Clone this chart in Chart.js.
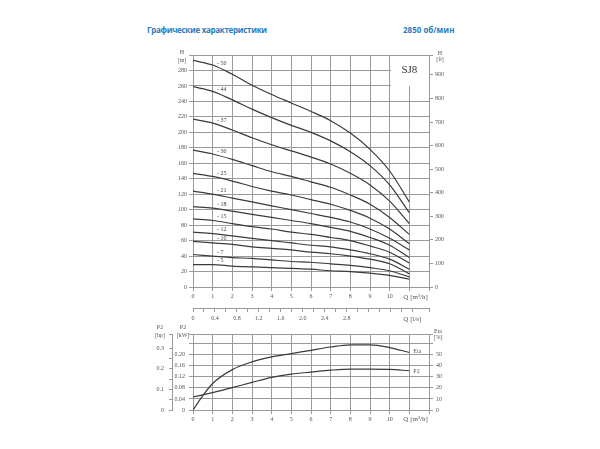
<!DOCTYPE html>
<html>
<head>
<meta charset="utf-8">
<script src="https://cdn.jsdelivr.net/npm/chart.js@4.4.1/dist/chart.umd.min.js"></script>
<style>
    html, body { margin: 0; padding: 0; background: #fff; }
    #page { position: relative; width: 600px; height: 449px; overflow: hidden; }
    .title { position: absolute; top: 24px; font-family: "Open Sans", sans-serif; font-weight: bold; font-size: 8px; color: #2b7bbd; white-space: nowrap; }
    #headChart { position: absolute; left: 150px; top: 40px; }
    #powerChart { position: absolute; left: 140px; top: 318px; }
</style>
</head>
<body>
<div id="page">
    <div class="title" style="left:147px; letter-spacing:-0.3px">Графические характеристики</div>
    <div class="title" style="left:403px">2850 об/мин</div>
    <canvas id="headChart" width="310" height="290"></canvas>
    <canvas id="powerChart" width="320" height="112"></canvas>
</div>
<script>
// Flow points, m3/h
const flowQ = [0, 1, 2, 3, 4, 5, 6, 7, 8, 9, 10, 11];

// Head curves (m) for each number of stages
const stages = ['50', '44', '37', '30', '25', '21', '18', '15', '12', '10', '7', '5'];
const head50 = [293, 287, 275, 261, 249, 238, 227, 215, 199, 178, 150, 110];
const head44 = [259, 253, 242, 230, 219, 209, 200, 189, 175, 157, 132, 96];
const head37 = [217, 212, 203, 193, 184, 176, 168, 159, 147, 132, 111, 82];
const head30 = [177, 172, 165, 157, 149, 143, 136, 129, 119, 107, 90, 68];
const head25 = [147, 143, 137, 130, 124, 119, 113, 107, 99, 89, 75, 56];
const head21 = [124, 120, 115, 110, 105, 100, 95, 90, 84, 75, 63, 48];
const head18 = [104, 102, 98, 94, 90, 86, 82, 77, 72, 64, 54, 38];
const head15 = [88, 86, 82, 78, 75, 71, 68, 64, 60, 53, 45, 31];
const head12 = [71, 69, 66, 63, 60, 57, 54, 52, 48, 43, 36, 23];
const head10 = [59, 57, 55, 52, 50, 48, 45, 43, 40, 36, 30, 17];
const head7 = [42, 40, 38, 37, 35, 33, 32, 30, 28, 25, 21, 13];
const head5 = [29, 29, 27, 26, 25, 24, 23, 21, 20, 18, 15, 10];
const headCurves = [head50, head44, head37, head30, head25, head21, head18, head15, head12, head10, head7, head5];

// Efficiency (%) and power P2 (kW)
const etaQ = [0, 0.5, 1, 2, 3, 4, 5, 6, 7, 8, 9, 10, 11];
const etaValues = [0, 13, 24, 36.5, 43.5, 48, 51, 54, 57, 59, 59, 56.5, 52];
const p2Values = [0.047, 0.063, 0.081, 0.100, 0.118, 0.130, 0.137, 0.144, 0.148, 0.148, 0.147, 0.142];

const gridColor = '#9a9a9a';
const textColor = '#555';
const serif = '"Liberation Serif", "DejaVu Serif", serif';
const tickFont = { family: serif, size: 6 };

function fixWidth(w) {
    return function(scale) { scale.width = w; };
}
function fixHeight(h) {
    return function(scale) { scale.height = h; };
}
function drawText(ctx, text, x, y, size, align, color) {
    ctx.font = size + 'px ' + serif;
    ctx.fillStyle = color || textColor;
    ctx.textAlign = align || 'center';
    ctx.textBaseline = 'middle';
    ctx.fillText(text, x, y);
}
function toPoints(xs, ys) {
    return ys.map((v, i) => ({ x: xs[i], y: v }));
}

// White box with the model name in the top right corner
const modelBox = {
    id: 'modelBox',
    beforeDatasetsDraw(chart) {
        const ctx = chart.ctx, x = chart.scales.x, y = chart.scales.y;
        const left = Math.round(x.getPixelForValue(10)) + 1;
        const right = Math.round(x.getPixelForValue(12));
        const top = Math.round(y.getPixelForValue(300)) + 1;
        const bottom = Math.round(y.getPixelForValue(260));
        ctx.save();
        ctx.fillStyle = '#fff';
        ctx.fillRect(left, top, right - left, bottom - top);
        drawText(ctx, 'SJ8', x.getPixelForValue(11), y.getPixelForValue(280), 11, 'center', '#333');
        ctx.restore();
    }
};

// Stage labels next to each head curve and axis captions
const headTexts = {
    id: 'headTexts',
    afterDraw(chart) {
        const ctx = chart.ctx, a = chart.chartArea, x = chart.scales.x, y = chart.scales.y;
        ctx.save();
        chart.data.datasets.forEach(ds => {
            const h = ds.data[1].y + (ds.data[2].y - ds.data[1].y) * 0.3;
            drawText(ctx, '- ' + ds.label, x.getPixelForValue(1.22), y.getPixelForValue(h) - 4.5, 6, 'left', '#444');
        });
        drawText(ctx, 'H', a.left - 11, a.top - 3, 6);
        drawText(ctx, '[m]', a.left - 11, a.top + 5, 6);
        drawText(ctx, 'H', a.right + 11, a.top - 2, 6);
        drawText(ctx, '[ft]', a.right + 11, a.top + 4, 6);
        drawText(ctx, 'Q [m³/h]', x.getPixelForValue(11) - 6, a.bottom + 10, 7, 'left');
        drawText(ctx, 'Q [l/s]', x.getPixelForValue(11) - 6, a.bottom + 32, 7, 'left');
        ctx.restore();
    }
};

const powerTexts = {
    id: 'powerTexts',
    afterDraw(chart) {
        const ctx = chart.ctx, a = chart.chartArea, x = chart.scales.x;
        const kw = chart.scales.kw, eta = chart.scales.eta;
        ctx.save();
        drawText(ctx, 'P2', a.left - 33, a.top - 7, 6);
        drawText(ctx, '[hp]', a.left - 33, a.top + 1, 6);
        drawText(ctx, 'P2', a.left - 10, a.top - 7, 6);
        drawText(ctx, '[kW]', a.left - 10, a.top + 1, 6);
        drawText(ctx, 'Eta', a.right + 9, a.top - 3, 6);
        drawText(ctx, '[%]', a.right + 9, a.top + 3, 6);
        drawText(ctx, 'Eta', x.getPixelForValue(11) + 4, eta.getPixelForValue(etaValues[etaValues.length - 1]) - 1, 6, 'left');
        drawText(ctx, 'P2', x.getPixelForValue(11) + 4, kw.getPixelForValue(p2Values[p2Values.length - 1]) + 1, 6, 'left');
        drawText(ctx, 'Q [m³/h]', x.getPixelForValue(11) - 6, a.bottom + 9, 7, 'left');
        ctx.restore();
    }
};

const lineStyle = {
    borderColor: '#3a3a3a',
    borderWidth: 1.2,
    pointRadius: 0,
    fill: false,
    cubicInterpolationMode: 'monotone'
};

function flowAxis(height) {
    return {
        type: 'linear',
        position: 'bottom',
        weight: 0,
        min: 0,
        max: 12,
        afterFit: fixHeight(height),
        grid: { color: gridColor, tickLength: 4 },
        border: { color: gridColor },
        ticks: {
            stepSize: 1,
            autoSkip: false,
            maxRotation: 0,
            padding: 2,
            color: textColor,
            font: tickFont,
            callback: v => v > 10 ? '' : v
        }
    };
}

// Head chart
new Chart(document.getElementById('headChart'), {
    type: 'line',
    data: {
        datasets: headCurves.map((h, i) => Object.assign({
            label: stages[i],
            data: toPoints(flowQ, h)
        }, lineStyle))
    },
    options: {
        responsive: false,
        animation: false,
        layout: { padding: { top: 15, left: 0, right: 0, bottom: 0 } },
        plugins: { legend: { display: false }, tooltip: { enabled: false } },
        scales: {
            x: flowAxis(21),
            xls: {
                type: 'linear',
                position: 'bottom',
                weight: 1,
                min: 0,
                max: 4.3,
                afterFit: fixHeight(22),
                grid: { drawOnChartArea: false, color: gridColor, tickLength: 4 },
                border: { color: gridColor },
                ticks: {
                    stepSize: 0.2,
                    autoSkip: false,
                    maxRotation: 0,
                    padding: 3,
                    color: textColor,
                    font: tickFont,
                    callback: v => {
                        const t = Math.round(v * 10);
                        if (t % 4 !== 0 || t > 28) return '';
                        return t === 0 ? '0' : (t / 10).toFixed(1);
                    }
                }
            },
            y: {
                type: 'linear',
                position: 'left',
                min: 0,
                max: 300,
                afterFit: fixWidth(43),
                grid: { color: gridColor, tickLength: 4 },
                border: { color: gridColor },
                ticks: {
                    stepSize: 20,
                    padding: 2,
                    color: textColor,
                    font: tickFont,
                    callback: v => v >= 300 ? '' : v
                }
            },
            yft: {
                type: 'linear',
                position: 'right',
                min: 0,
                max: 300 / 0.3048,
                afterFit: fixWidth(31),
                grid: { drawOnChartArea: false, color: gridColor, tickLength: 4 },
                border: { color: gridColor },
                ticks: {
                    stepSize: 100,
                    padding: 2,
                    color: textColor,
                    font: tickFont,
                    callback: v => v > 950 ? '' : v
                }
            }
        }
    },
    plugins: [modelBox, headTexts]
});

// Power and efficiency chart
new Chart(document.getElementById('powerChart'), {
    type: 'line',
    data: {
        datasets: [
            Object.assign({ label: 'Eta', yAxisID: 'eta', data: toPoints(etaQ, etaValues) }, lineStyle),
            Object.assign({ label: 'P2', yAxisID: 'kw', data: toPoints(flowQ, p2Values) }, lineStyle)
        ]
    },
    options: {
        responsive: false,
        animation: false,
        layout: { padding: { top: 16, left: 0, right: 0, bottom: 0 } },
        plugins: { legend: { display: false }, tooltip: { enabled: false } },
        scales: {
            x: flowAxis(20),
            kw: {
                type: 'linear',
                position: 'left',
                weight: 0,
                min: 0,
                max: 0.275,
                afterFit: fixWidth(21),
                grid: { color: gridColor, tickLength: 4 },
                border: { color: gridColor },
                ticks: {
                    stepSize: 0.04,
                    padding: 4,
                    color: textColor,
                    font: tickFont,
                    callback: v => v > 0.21 ? '' : (v === 0 ? '0' : v.toFixed(2))
                }
            },
            hp: {
                type: 'linear',
                position: 'left',
                weight: 1,
                min: 0,
                max: 0.275 / 0.7457,
                afterFit: fixWidth(32),
                grid: { drawOnChartArea: false, color: gridColor, tickLength: 3 },
                border: { color: gridColor },
                ticks: {
                    stepSize: 0.05,
                    padding: 5,
                    color: textColor,
                    font: tickFont,
                    callback: v => {
                        const t = Math.round(v * 100);
                        if (t % 10 !== 0 || t > 30) return '';
                        return t === 0 ? '0' : (t / 100).toFixed(1);
                    }
                }
            },
            eta: {
                type: 'linear',
                position: 'right',
                min: 0,
                max: 68.75,
                afterFit: fixWidth(31),
                grid: { drawOnChartArea: false, color: gridColor, tickLength: 4 },
                border: { color: gridColor },
                ticks: {
                    stepSize: 10,
                    padding: 3,
                    color: textColor,
                    font: tickFont,
                    callback: v => v > 55 ? '' : v
                }
            }
        }
    },
    plugins: [powerTexts]
});
</script>
</body>
</html>
